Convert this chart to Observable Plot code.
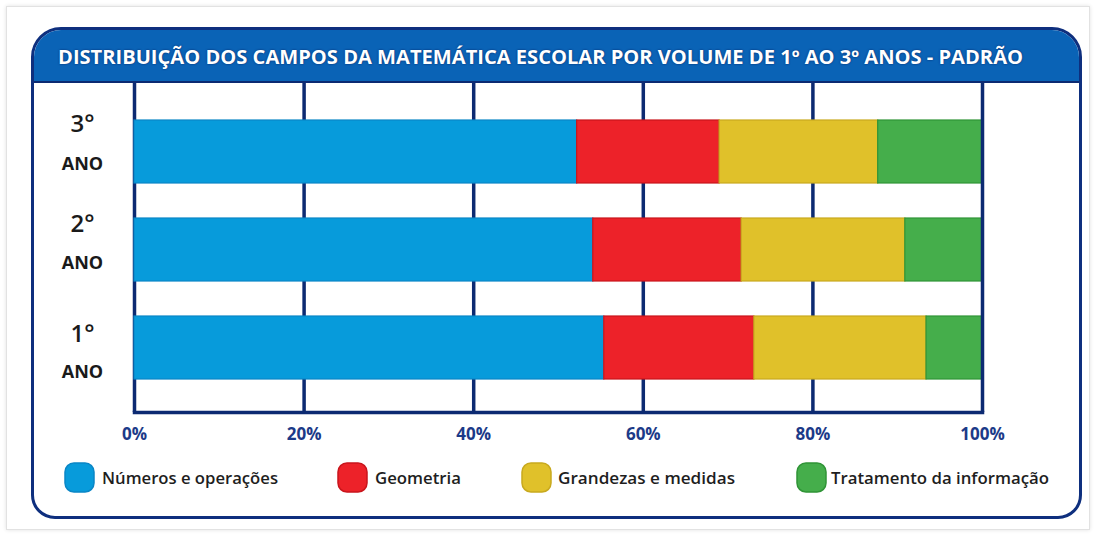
<!DOCTYPE html>
<html>
<head>
<meta charset="utf-8">
<script src="https://cdn.jsdelivr.net/npm/d3@7"></script>
<script src="https://cdn.jsdelivr.net/npm/@observablehq/plot@0.6"></script>
<style>
  html, body { margin: 0; padding: 0; background: #ffffff; }
  body { width: 1094px; height: 534px; position: relative; overflow: hidden; font-family: "Open Sans", sans-serif; }
  #outer { position: absolute; left: 6px; top: 6px; width: 1084px; height: 524px; box-sizing: border-box;
           border: 1px solid #e2e2e2; box-shadow: 0 0 4px rgba(0,0,0,0.12); background: #fff; }
  #frame { position: absolute; left: 31px; top: 27px; width: 1051px; height: 492px; box-sizing: border-box;
           border: 3px solid #0e2f7e; border-radius: 30px 30px 24px 24px; overflow: hidden; background: #fff; }
  #frame svg { display: block; }
  .title { text-shadow: 0 0 2px rgba(0,20,80,0.8); }
</style>
</head>
<body>
<div id="outer"></div>
<div id="frame"></div>
<script>
// ---- data ----
const titulo = "DISTRIBUIÇÃO DOS CAMPOS DA MATEMÁTICA ESCOLAR POR VOLUME DE 1º AO 3º ANOS - PADRÃO";
const anos = ["3°", "2°", "1°"];
const anoRotulo = "ANO";
const campos = ["Números e operações", "Geometria", "Grandezas e medidas", "Tratamento da informação"];
const cores = ["#079bdb", "#ed2229", "#e0c12a", "#45ae4b"];
const bordas = ["#0a86c6", "#c9151c", "#c8a91e", "#2f9436"];
const numeros = [52.2, 54.1, 55.4];
const geometria = [16.8, 17.5, 17.7];
const grandezas = [18.7, 19.3, 20.3];
const tratamento = [12.3, 9.1, 6.6];
const ticks = [0, 20, 40, 60, 80, 100];
const tickLabels = ["0%", "20%", "40%", "60%", "80%", "100%"];

const series = [numeros, geometria, grandezas, tratamento];
const data = [];
anos.forEach((ano, i) => {
  let acc = 0;
  campos.forEach((campo, j) => {
    const v = series[j][i];
    data.push({ano, campo, x1: acc, x2: acc + v});
    acc += v;
  });
});

const frame = document.getElementById("frame");
const W = 1045;
const navy = "#0c2a72";

// ---- header ----
const header = d3.create("svg").attr("width", W).attr("height", 53);
header.append("rect").attr("width", W).attr("height", 53).attr("fill", "#0a63b6");
header.append("rect").attr("y", 51).attr("width", W).attr("height", 2).attr("fill", "#0c2a72");
header.append("text").attr("class", "title")
  .attr("x", 24).attr("y", 34)
  .attr("fill", "#ffffff")
  .attr("font-family", "Open Sans").attr("font-weight", 700).attr("font-size", 19)
  .attr("textLength", 965).attr("lengthAdjust", "spacingAndGlyphs")
  .text(titulo);
frame.appendChild(header.node());

// ---- chart ----
const fmt = d => tickLabels[ticks.indexOf(d)];
// label offsets (layout) per year row, relative to the bar centre
const offAno = [-28, -26, -14];
const offRot = [12, 13, 24];
const yearMarks = anos.flatMap((a, i) => [
  Plot.text([a], {y: d => d, text: d => d, frameAnchor: "left", dx: -52, dy: offAno[i], fontSize: 24, fontWeight: 600, fill: "#1a1a1a", textAnchor: "middle"}),
  Plot.text([a], {y: d => d, text: () => anoRotulo, frameAnchor: "left", dx: -52, dy: offRot[i], fontSize: 18, fontWeight: 700, fill: "#1a1a1a", textAnchor: "middle"})
]);
const chart = Plot.plot({
  width: W,
  height: 369,
  marginLeft: 100,
  marginRight: 97,
  marginTop: 0,
  marginBottom: 40,
  style: {fontFamily: "Open Sans", background: "#ffffff", overflow: "visible"},
  x: {domain: [0, 100], label: null},
  y: {domain: anos, paddingInner: 0.357, paddingOuter: 0.344, align: 0.53, axis: null},
  marks: [
    Plot.ruleX(ticks.slice(0, 5), {stroke: navy, strokeWidth: 3.5}),
    Plot.frame({anchor: "bottom", stroke: navy, strokeWidth: 3.5}),
    ...campos.map((c, j) => Plot.barX(data.filter(d => d.campo === c), {
      x1: "x1", x2: "x2", y: "ano", fill: cores[j], stroke: bordas[j], strokeWidth: 1.2, inset: 0
    })),
    Plot.ruleX([100], {stroke: navy, strokeWidth: 3.5}),
    Plot.axisX({ticks, tickFormat: fmt, tickSize: 0, tickPadding: 15, fontSize: 17, fontWeight: 700, fill: "#1c3a88", label: null}),
    ...yearMarks
  ]
});
frame.appendChild(chart);

// ---- legend ----
const legX = [31, 304, 488, 763];
const legTextX = [68, 341, 524, 797];
const legTextW = [176, 86, 177, 218];
const legend = d3.create("svg").attr("width", W).attr("height", 64);
const g = legend.selectAll("g").data(campos).join("g");
g.append("rect")
  .attr("x", (d, i) => legX[i]).attr("y", 11).attr("width", 29).attr("height", 29).attr("rx", 9)
  .attr("fill", (d, i) => cores[i]).attr("stroke", (d, i) => bordas[i]).attr("stroke-width", 1.5);
g.append("text")
  .attr("x", (d, i) => legTextX[i]).attr("y", 32)
  .attr("font-family", "Open Sans").attr("font-size", 17).attr("font-weight", 600)
  .attr("fill", "#1e1e1e")
  .attr("textLength", (d, i) => legTextW[i]).attr("lengthAdjust", "spacingAndGlyphs")
  .text(d => d);
frame.appendChild(legend.node());
</script>
</body>
</html>
